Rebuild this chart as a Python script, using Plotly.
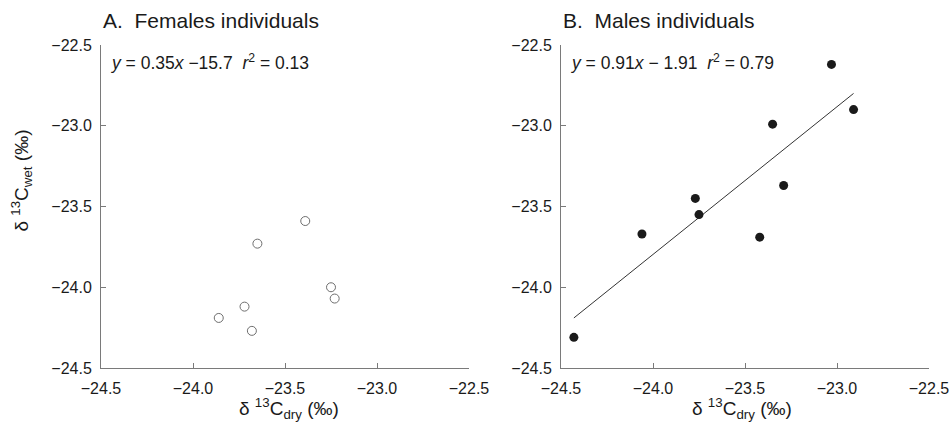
import plotly.graph_objects as go

# Data
fem_dry = [-23.39, -23.65, -23.25, -23.23, -23.72, -23.86, -23.68]
fem_wet = [-23.59, -23.73, -24.00, -24.07, -24.12, -24.19, -24.27]

male_dry = [-24.43, -24.06, -23.77, -23.75, -23.42, -23.35, -23.29, -23.03, -22.91]
male_wet = [-24.31, -23.67, -23.45, -23.55, -23.69, -22.99, -23.37, -22.62, -22.90]

fit_dry = [-24.43, -22.91]
fit_wet = [-24.19, -22.80]

tick_vals = [-24.5, -24.0, -23.5, -23.0, -22.5]
tick_text = ["\u221224.5", "\u221224.0", "\u221223.5", "\u221223.0", "\u221222.5"]

panel_titles = ["A.  Females individuals", "B.  Males individuals"]
equations = ["<i>y</i> = 0.35<i>x</i> \u221215.7  <i>r</i><sup>2</sup> = 0.13",
             "<i>y</i> = 0.91<i>x</i> \u2212 1.91  <i>r</i><sup>2</sup> = 0.79"]
x_title = "\u03b4 <sup>13</sup>C<sub>dry</sub> (\u2030)"
y_title = "\u03b4 <sup>13</sup>C<sub>wet</sub> (\u2030)"

FONT = "Liberation Sans, Arial, sans-serif"
TXT = "#1a1a1a"
AX = "#7a7a7a"

fig = go.Figure()
fig.add_trace(go.Scatter(x=fem_dry, y=fem_wet, mode="markers", xaxis="x", yaxis="y",
                         marker=dict(symbol="circle-open", size=9, color="#6e6e6e", line=dict(width=1)),
                         showlegend=False))
fig.add_trace(go.Scatter(x=fit_dry, y=fit_wet, mode="lines", xaxis="x2", yaxis="y2",
                         line=dict(color="#333333", width=1), showlegend=False))
fig.add_trace(go.Scatter(x=male_dry, y=male_wet, mode="markers", xaxis="x2", yaxis="y2",
                         marker=dict(symbol="circle", size=9, color="#1a1a1a"),
                         showlegend=False))

W, H = 951, 434
L, R, T, B = 101, 22, 45, 66
pw = W - L - R
d1 = [0, 368 / pw]
d2 = [(561 - L) / pw, 1]

axis_common = dict(range=[-24.5, -22.5], tickvals=tick_vals, ticktext=tick_text,
                   showgrid=False, zeroline=False, showline=True, linecolor=AX, linewidth=1,
                   ticks="inside", ticklen=5, tickcolor=AX, tickwidth=1, automargin=False,
                   tickfont=dict(family=FONT, size=16, color=TXT))

fig.update_layout(
    width=W, height=H,
    margin=dict(l=L, r=R, t=T, b=B),
    plot_bgcolor="white", paper_bgcolor="white",
    xaxis=dict(domain=d1, anchor="y", ticklabelstandoff=6, **axis_common),
    yaxis=dict(domain=[0, 1], anchor="x", ticklabelstandoff=5, **axis_common),
    xaxis2=dict(domain=d2, anchor="y2", ticklabelstandoff=6, **axis_common),
    yaxis2=dict(domain=[0, 1], anchor="x2", ticklabelstandoff=5, **axis_common),
)

ann = []
for i, (xr, yr) in enumerate([("x domain", "y domain"), ("x2 domain", "y2 domain")]):
    ann.append(dict(xref=xr, yref=yr, x=0, y=1.077, xanchor="left", yanchor="middle",
                    text=panel_titles[i], showarrow=False,
                    font=dict(family=FONT, size=21, color=TXT)))
    ann.append(dict(xref=xr, yref=yr, x=0.022, y=0.947, xanchor="left", yanchor="middle",
                    text=equations[i], showarrow=False,
                    font=dict(family=FONT, size=17.5, color=TXT)))
    ann.append(dict(xref=xr, yref=yr, x=[0.511, 0.491][i], y=-0.125, xanchor="center", yanchor="middle",
                    text=x_title, showarrow=False,
                    font=dict(family=FONT, size=19, color=TXT)))
ann.append(dict(xref="x domain", yref="y domain", x=-0.215, y=0.58, xanchor="center", yanchor="middle",
                text=y_title, textangle=-90, showarrow=False,
                font=dict(family=FONT, size=19, color=TXT)))
fig.update_layout(annotations=ann)

fig.write_html("out.html", config={"displayModeBar": False},
               post_script="document.body.style.margin='0px';")
